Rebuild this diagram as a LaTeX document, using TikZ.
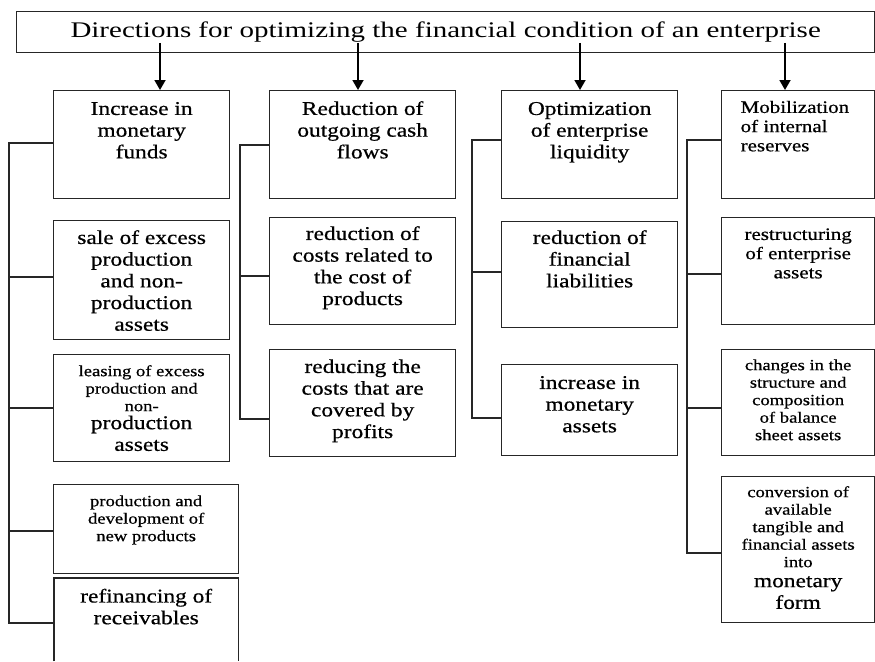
\documentclass[tikz,border=0pt]{standalone}
\usepackage{fontspec}
\setmainfont[FakeStretch=1.2,FakeBold=0.6]{Liberation Serif}
\newfontfamily\titlefont[FakeStretch=1.3]{Liberation Serif}
\usetikzlibrary{arrows.meta,calc}
\newcommand{\ftitle}{\titlefont\fontsize{22.3}{24}\selectfont}
\newcommand{\fbig}{\fontsize{19.5}{21.7}\selectfont}
\newcommand{\fmed}{\fontsize{17.5}{19.2}\selectfont}
\newcommand{\fsm}{\fontsize{15.5}{17.5}\selectfont}
\newcommand{\bxt}[4]{\parbox[c][#1pt][t]{#2pt}{\centering\vspace*{#3pt}#4\par}}
\tikzset{
  bx/.style={draw=black!85, line width=1.3pt, inner sep=0pt, anchor=north west},
  openbx/.style={draw=none, inner sep=0pt, anchor=north west},
  conn/.style={draw=black!85, line width=1.3pt},
  arr/.style={draw=black, line width=1.8pt, -{Triangle[width=11pt,length=10pt]}},
}
\begin{document}
\begin{tikzpicture}[x=1pt,y=-1pt]
\useasboundingbox (0,0) rectangle (875,661);
\fill[white] (0,0) rectangle (875,661);
% title
\node[bx, minimum width=858pt, minimum height=41pt, font=\ftitle] (T) at (16,11)
  {Directions for optimizing the financial condition of an enterprise};
% column 1
\node[bx] (A1) at (53,90)  {\bxt{108}{176}{9.1}{\fbig\strut Increase in\\monetary\\funds}};
\node[bx] (A2) at (53,220) {\bxt{119}{176}{8.1}{\fbig\strut sale of excess\\production\\and non-\\production\\assets}};
\node[bx] (A3) at (53,354) {\bxt{107}{176}{9.25}{{\fsm\strut leasing of excess\\production and\\non-\par}\vspace*{-3.7pt}{\fbig production\\assets\par}}};
\node[bx] (A4) at (53,484) {\bxt{89}{185}{9.25}{\fsm\strut production and\\development of\\new products}};
\node[openbx] (A5) at (54,578) {\bxt{83}{184}{9.1}{\fbig\strut refinancing of\\receivables}};
\draw[conn] (A5.south west) -- (A5.north west) -- (A5.north east) -- (A5.south east);
% column 2
\node[bx] (B1) at (269,90)  {\bxt{108}{186}{9.1}{\fbig\strut Reduction of\\outgoing cash\\flows}};
\node[bx] (B2) at (269,217) {\bxt{107}{186}{7.1}{\fbig\strut reduction of\\costs related to\\the cost of\\products}};
\node[bx] (B3) at (269,349) {\bxt{107}{186}{8.1}{\fbig\strut reducing the\\costs that are\\covered by\\profits}};
% column 3
\node[bx] (C1) at (501,90)  {\bxt{108}{176}{9.1}{\fbig\strut Optimization\\of enterprise\\liquidity}};
\node[bx] (C2) at (501,221) {\bxt{106}{176}{7.1}{\fbig\strut reduction of\\financial\\liabilities}};
\node[bx] (C3) at (501,364) {\bxt{91}{176}{9.1}{\fbig\strut increase in\\monetary\\assets}};
% column 4
\node[bx] (D1) at (721,90)  {\parbox[c][108pt][t]{153pt}{\raggedright\leftskip=19pt\vspace*{8.85pt}\fmed\strut Mobilization\\of internal\\reserves\par}};
\node[bx] (D2) at (721,217) {\bxt{107}{153}{8.85}{\fmed\strut restructuring\\of enterprise\\assets}};
\node[bx] (D3) at (721,349) {\bxt{106}{153}{8.25}{\fsm\strut changes in the\\structure and\\composition\\of balance\\sheet assets}};
\node[bx] (D4) at (721,476) {\bxt{146}{153}{8.25}{{\fsm\strut conversion of\\available\\tangible and\\financial assets\\into\par}\vspace*{-1.7pt}{\fbig monetary\\form\par}}};
% arrows
\coordinate (a1) at (160,43);
\coordinate (a2) at (358,43);
\coordinate (a3) at (580,43);
\coordinate (a4) at (785,43);
\draw[arr] (a1) -- (a1 |- A1.north);
\draw[arr] (a2) -- (a2 |- B1.north);
\draw[arr] (a3) -- (a3 |- C1.north);
\draw[arr] (a4) -- (a4 |- D1.north);
% brackets column 1
\coordinate (t1) at (9,0);
\coordinate (A1t) at ($(A1.north west)+(0,53)$);
\coordinate (A2t) at ($(A2.north west)+(0,57)$);
\coordinate (A3t) at ($(A3.north west)+(0,54)$);
\coordinate (A4t) at ($(A4.north west)+(0,47)$);
\coordinate (A5t) at ($(A5.north west)+(0,45)$);
\draw[conn] (A1t) -- (A1t -| t1) -- (A5t -| t1) -- (A5t);
\draw[conn] (A2t) -- (A2t -| t1);
\draw[conn] (A3t) -- (A3t -| t1);
\draw[conn] (A4t) -- (A4t -| t1);
% brackets column 2
\coordinate (t2) at (240,0);
\coordinate (B1t) at ($(B1.north west)+(0,55)$);
\coordinate (B2t) at ($(B2.north west)+(0,59)$);
\coordinate (B3t) at ($(B3.north west)+(0,70)$);
\draw[conn] (B1t) -- (B1t -| t2) -- (B3t -| t2) -- (B3t);
\draw[conn] (B2t) -- (B2t -| t2);
% brackets column 3
\coordinate (t3) at (472,0);
\coordinate (C1t) at ($(C1.north west)+(0,50)$);
\coordinate (C2t) at ($(C2.north west)+(0,51)$);
\coordinate (C3t) at ($(C3.north west)+(0,54)$);
\draw[conn] (C1t) -- (C1t -| t3) -- (C3t -| t3) -- (C3t);
\draw[conn] (C2t) -- (C2t -| t3);
% brackets column 4
\coordinate (t4) at (687,0);
\coordinate (D1t) at ($(D1.north west)+(0,50)$);
\coordinate (D2t) at ($(D2.north west)+(0,57)$);
\coordinate (D3t) at ($(D3.north west)+(0,59)$);
\coordinate (D4t) at ($(D4.north west)+(0,77)$);
\draw[conn] (D1t) -- (D1t -| t4) -- (D4t -| t4) -- (D4t);
\draw[conn] (D2t) -- (D2t -| t4);
\draw[conn] (D3t) -- (D3t -| t4);
\end{tikzpicture}
\end{document}
